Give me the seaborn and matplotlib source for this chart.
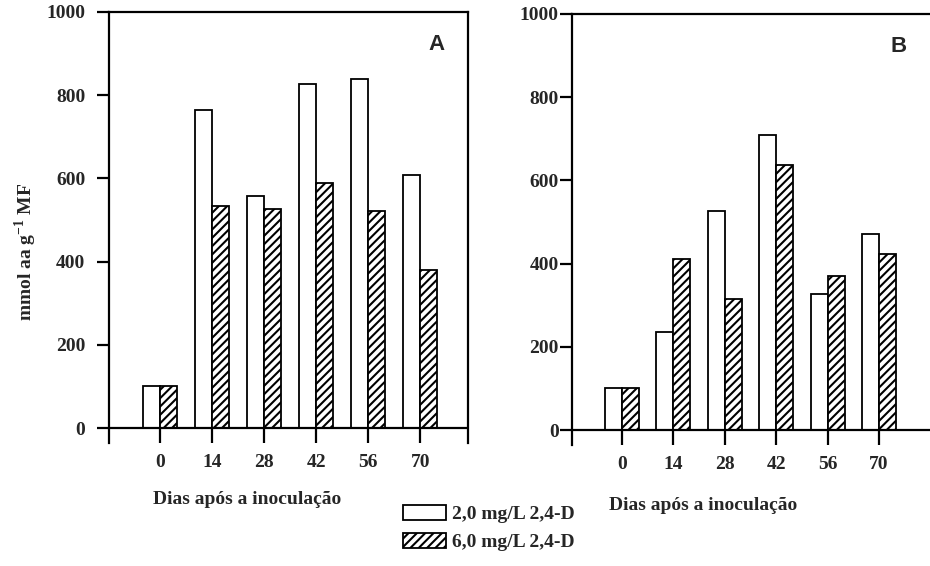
import numpy as np
import pandas as pd
import matplotlib
matplotlib.use("Agg")
import matplotlib.pyplot as plt
from matplotlib.patches import Patch
import seaborn as sns

# Days after inoculation
dias = ["0", "14", "28", "42", "56", "70"]
tratamentos = ["2,0 mg/L 2,4-D", "6,0 mg/L 2,4-D"]

# Panel A
a_2mg = [100, 765, 558, 826, 839, 608]
a_6mg = [100, 534, 526, 588, 522, 380]

# Panel B
b_2mg = [100, 236, 527, 709, 326, 470]
b_6mg = [100, 410, 316, 638, 371, 423]

y_ticks = [0, 200, 400, 600, 800, 1000]


def long_form(v2, v6):
    return pd.DataFrame({
        "dia": dias * 2,
        "tratamento": [tratamentos[0]] * len(dias) + [tratamentos[1]] * len(dias),
        "valor": list(v2) + list(v6),
    })


sns.set_theme(style="white")
plt.rcParams["font.family"] = ["Liberation Serif", "DejaVu Serif"]
plt.rcParams["hatch.linewidth"] = 1.5
plt.rcParams["hatch.color"] = "black"
plt.rcParams["mathtext.fontset"] = "custom"
plt.rcParams["mathtext.bf"] = "Liberation Serif:bold"
plt.rcParams["mathtext.rm"] = "Liberation Serif"

W, H = 930, 566
fig = plt.figure(figsize=(W / 100, H / 100), dpi=100)


def px_axes(left, top, right, bottom):
    return fig.add_axes([left / W, 1 - bottom / H, (right - left) / W, (bottom - top) / H])


ax_a = px_axes(109, 12, 468, 443)
ax_b = px_axes(572, 14, 930, 445)

bold = dict(fontweight="bold", fontfamily="Liberation Serif")
HATCH = "////"

for ax, v2, v6, letter, xlim, ypad in [
    (ax_a, a_2mg, a_6mg, "A", (-0.98, 5.92), 8.5),
    (ax_b, b_2mg, b_6mg, "B", (-0.97, 5.99), 1.0),
]:
    df = long_form(v2, v6)
    sns.barplot(data=df, x="dia", y="valor", hue="tratamento",
                order=dias, hue_order=tratamentos,
                palette=["white", "white"], edgecolor="black", linewidth=1.3,
                width=0.66, errorbar=None, legend=False, ax=ax, zorder=2)
    for bar in ax.containers[1]:
        bar.set_hatch(HATCH)

    ax.set_xlim(*xlim)
    ax.set_ylim(-36, 1000)
    ax.set_yticks(y_ticks)
    ax.set_yticklabels([str(t) for t in y_ticks], **bold, fontsize=14)
    ax.set_xticks(range(len(dias)))
    ax.set_xticklabels(dias, **bold, fontsize=14)
    ax.set_xlabel("")
    ax.set_ylabel("")

    ax.axhline(0, color="black", linewidth=1.6, zorder=3)
    for side in ["left", "right", "top"]:
        ax.spines[side].set_color("black")
        ax.spines[side].set_linewidth(1.6)
    ax.spines["bottom"].set_visible(False)
    if letter == "B":
        ax.spines["right"].set_visible(False)

    ax.tick_params(axis="y", direction="out", length=8.6, width=1.6,
                   color="black", pad=ypad, left=True)
    ax.tick_params(axis="x", direction="in", length=10.5, width=1.6,
                   color="black", pad=8, bottom=True)
    ax.grid(False)
    ax.set_facecolor("white")

    ax.text(0.912, 0.925, letter, transform=ax.transAxes, ha="center", va="center",
            fontsize=16, fontfamily="Liberation Sans", fontweight="bold")

# Axis titles
fig.text(247 / W, 1 - 500 / H, "Dias após a inoculação", ha="center", va="center",
         fontsize=14, **bold)
fig.text(703 / W, 1 - 505 / H, "Dias após a inoculação", ha="center", va="center",
         fontsize=14, **bold)
fig.text(26 / W, 1 - 252 / H, r"mmol aa g$^{\mathbf{-1}}$ MF", rotation=90,
         ha="center", va="center", fontsize=14, **bold)

# Legend
handles = [
    Patch(facecolor="white", edgecolor="black", linewidth=1.3, label=tratamentos[0]),
    Patch(facecolor="white", edgecolor="black", linewidth=1.3, hatch=HATCH, label=tratamentos[1]),
]
fig.legend(handles=handles, loc="upper left", bbox_to_anchor=(403 / W, 1 - 505 / H),
           frameon=False, borderpad=0, borderaxespad=0, handlelength=2.2,
           handleheight=0.8, handletextpad=0.3, labelspacing=0.5,
           prop=dict(family="Liberation Serif", weight="bold", size=14))

fig.savefig("out.png", dpi=100, facecolor="white")
